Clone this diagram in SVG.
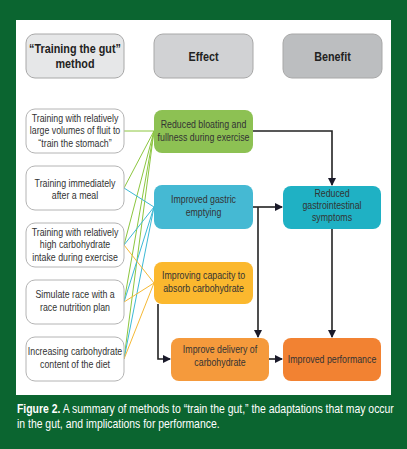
<svg xmlns="http://www.w3.org/2000/svg" width="407" height="449" viewBox="0 0 407 449">
<defs>
<style>
.t,.h,.cap{transform-box:fill-box;transform:scaleX(0.8)}
.t{font-family:"Liberation Sans",Arial,sans-serif;font-size:11px;fill:#333;text-anchor:middle;transform-origin:center}
.h{font-family:"Liberation Sans",Arial,sans-serif;font-size:13.5px;font-weight:bold;fill:#222;text-anchor:middle;transform-origin:center}
.m{fill:#fff;stroke:#b4b4b4;stroke-width:1}
.hd{stroke:#a8a8a8;stroke-width:1}
.cap{font-family:"Liberation Sans",Arial,sans-serif;font-size:12.8px;fill:#fff;transform-origin:left center;transform:scaleX(0.815)}
.g{stroke:#8cc63f;stroke-width:1;fill:none}
.b{stroke:#3cb9d5;stroke-width:1;fill:none}
.y{stroke:#f5b935;stroke-width:1;fill:none}
.k{stroke:#222;stroke-width:1.6;fill:none}
</style>
<marker id="ar" markerWidth="8" markerHeight="8" refX="7" refY="4" orient="auto" markerUnits="userSpaceOnUse" viewBox="0 0 8 8">
<path d="M0,0 L8,4 L0,8 z" fill="#1a1a2a"/>
</marker>
</defs>
<rect x="0" y="0" width="407" height="449" fill="#0b6530"/>
<rect x="16" y="20" width="375" height="375" fill="#fff"/>

<g id="connectors">
<g id="colored">
<line class="g" x1="124" y1="131" x2="154" y2="131"/>
<line class="g" x1="124" y1="188" x2="154" y2="131"/>
<line class="g" x1="124" y1="245" x2="154" y2="131"/>
<line class="g" x1="124" y1="302" x2="154" y2="131"/>
<line class="g" x1="124" y1="359" x2="154" y2="131"/>
<line class="b" x1="124" y1="188" x2="154" y2="207"/>
<line class="b" x1="124" y1="245" x2="154" y2="207"/>
<line class="b" x1="124" y1="302" x2="154" y2="207"/>
<line class="b" x1="124" y1="359" x2="154" y2="207"/>
<line class="y" x1="124" y1="245" x2="154" y2="283"/>
<line class="y" x1="124" y1="302" x2="154" y2="283"/>
<line class="y" x1="124" y1="359" x2="154" y2="283"/>
</g>
<g id="arrows">
<polyline class="k" points="253,131 332,131 332,185" marker-end="url(#ar)"/>
<line class="k" x1="253" y1="207" x2="282" y2="207" marker-end="url(#ar)"/>
<line class="k" x1="258" y1="207" x2="258" y2="337" marker-end="url(#ar)"/>
<polyline class="k" points="158,304 158,359 170,359" marker-end="url(#ar)"/>
<line class="k" x1="332" y1="229" x2="332" y2="337" marker-end="url(#ar)"/>
<line class="k" x1="269" y1="359" x2="282" y2="359" marker-end="url(#ar)"/>
</g>
</g>

<g id="hdr-method"><rect class="hd" x="26" y="34" width="98" height="44" rx="9" fill="#e6e7e8"/>
<text class="h" x="75" y="53">“Training the gut”</text><text class="h" x="75" y="68">method</text></g>
<g id="hdr-effect"><rect class="hd" x="154" y="34" width="99" height="44" rx="9" fill="#d1d2d4"/>
<text class="h" x="203.5" y="61">Effect</text></g>
<g id="hdr-benefit"><rect class="hd" x="283" y="34" width="99" height="44" rx="9" fill="#bcbec0"/>
<text class="h" x="332.5" y="61">Benefit</text></g>

<g id="m1"><rect class="m" x="26" y="109" width="98" height="44" rx="9"/>
<text class="t" x="75" y="122">Training with relatively</text><text class="t" x="75" y="134.5">large volumes of fluit to</text><text class="t" x="75" y="147">“train the stomach”</text></g>
<g id="m2"><rect class="m" x="26" y="166" width="98" height="44" rx="9"/>
<text class="t" x="75" y="187">Training immediately</text><text class="t" x="75" y="199.5">after a meal</text></g>
<g id="m3"><rect class="m" x="26" y="223" width="98" height="44" rx="9"/>
<text class="t" x="75" y="236">Training with relatively</text><text class="t" x="75" y="248.5">high carbohydrate</text><text class="t" x="75" y="261">intake during exercise</text></g>
<g id="m4"><rect class="m" x="26" y="280" width="98" height="44" rx="9"/>
<text class="t" x="75" y="298">Simulate race with a</text><text class="t" x="75" y="311">race nutrition plan</text></g>
<g id="m5"><rect class="m" x="26" y="337" width="98" height="44" rx="9"/>
<text class="t" x="75" y="355">Increasing carbohydrate</text><text class="t" x="75" y="368">content of the diet</text></g>

<g id="e1"><rect x="154" y="110" width="99" height="43" rx="8" fill="#8dc153"/>
<text class="t" x="203.5" y="128">Reduced bloating and</text><text class="t" x="203.5" y="141">fullness during exercise</text></g>
<g id="e2"><rect x="154" y="185" width="99" height="44" rx="8" fill="#45b9d3"/>
<text class="t" x="203.5" y="203">Improved gastric</text><text class="t" x="203.5" y="216">emptying</text></g>
<g id="e3"><rect x="154" y="262" width="99" height="42" rx="8" fill="#fbb82e"/>
<text class="t" x="203.5" y="279">Improving capacity to</text><text class="t" x="203.5" y="292">absorb carbohydrate</text></g>

<g id="b1"><rect x="283" y="186" width="98" height="43" rx="8" fill="#1fb1c4"/>
<text class="t" x="332" y="197">Reduced</text><text class="t" x="332" y="209">gastrointestinal</text><text class="t" x="332" y="221">symptoms</text></g>
<g id="e4"><rect x="171" y="338" width="98" height="43" rx="8" fill="#f59a3c"/>
<text class="t" x="220" y="353">Improve delivery of</text><text class="t" x="220" y="366">carbohydrate</text></g>
<g id="b2"><rect x="283" y="338" width="98" height="43" rx="8" fill="#f28232"/>
<text class="t" x="332" y="363">Improved performance</text></g>

<text class="cap" x="17" y="413"><tspan font-weight="bold">Figure 2.</tspan> A summary of methods to “train the gut,” the adaptations that may occur</text>
<text class="cap" x="17" y="428">in the gut, and implications for performance.</text>
</svg>
